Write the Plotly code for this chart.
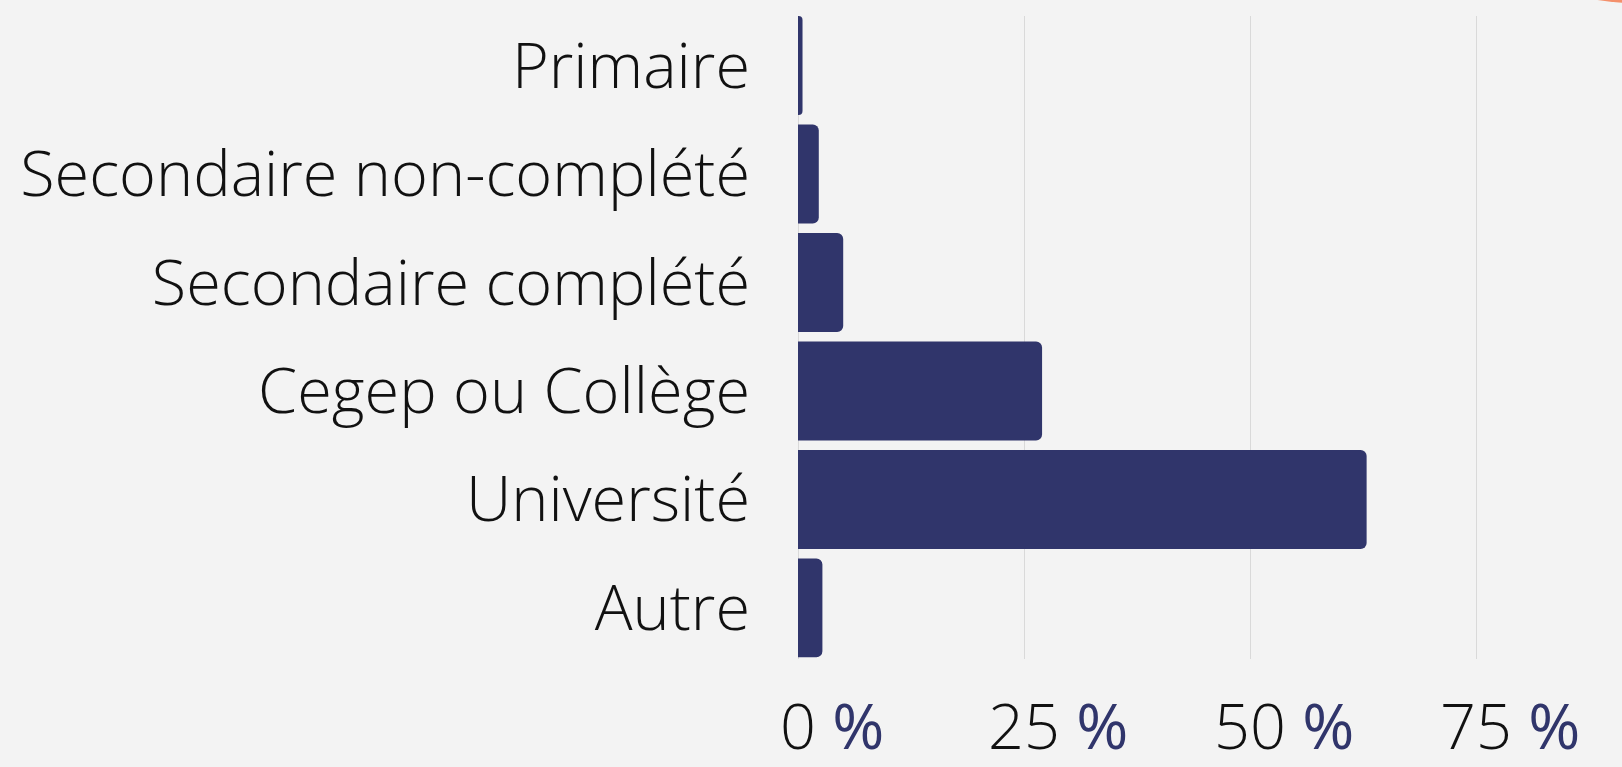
import plotly.graph_objects as go

categories = ["Primaire", "Secondaire non-complété", "Secondaire complété",
              "Cegep ou Collège", "Université", "Autre"]
values = [0.5, 2.3, 5.0, 27.0, 62.9, 2.7]
tick_values = [0, 25, 50, 75]
tick_labels = ["0", "25", "50", "75"]

NAVY = "#30356b"
BG = "#f3f3f3"
GRID = "#d9d9d9"
FONT = "Open Sans"

ticktext = [
    f"<span style='color:rgba(0,0,0,0);font-weight:500'>%</span> {t} "
    f"<span style='color:{NAVY};font-weight:500'>%</span>"
    for t in tick_labels
]

fig = go.Figure(go.Bar(
    x=values, y=categories, orientation="h",
    marker=dict(color=NAVY, line=dict(width=0)),
    width=0.912,
    hoverinfo="skip",
))

fig.update_layout(
    width=1622, height=767,
    paper_bgcolor=BG, plot_bgcolor=BG,
    margin=dict(l=798, r=0, t=16, b=101, pad=0),
    barcornerradius=6,
    showlegend=False,
    font=dict(family=FONT, size=63, color="#111111", weight=300),
    shapes=[dict(
        type="circle", xref="paper", yref="paper",
        x0=0.5546, x1=1.5255, y0=1.0185, y1=2.2492,
        fillcolor="#f4906b", line=dict(width=0), layer="below",
    )],
)

fig.update_xaxes(
    range=[0, 91.15],
    tickmode="array", tickvals=tick_values, ticktext=ticktext,
    showgrid=True, gridcolor=GRID, gridwidth=1,
    zeroline=True, zerolinecolor=GRID, zerolinewidth=1,
    showline=False, ticks="",
    ticklabelstandoff=26,
    tickfont=dict(family=FONT, size=63, color="#111111", weight=300),
    fixedrange=True,
)
fig.update_yaxes(
    categoryorder="array", categoryarray=categories,
    range=[5.471, -0.456],
    showgrid=False, zeroline=False, showline=False, ticks="",
    ticklabelstandoff=47,
    tickfont=dict(family=FONT, size=63, color="#111111", weight=300),
    fixedrange=True,
)

fig.write_html(
    "out.html",
    config={"displayModeBar": False},
    post_script="document.body.style.margin='0';document.body.style.overflow='hidden';document.body.style.background='#f3f3f3';",
)
